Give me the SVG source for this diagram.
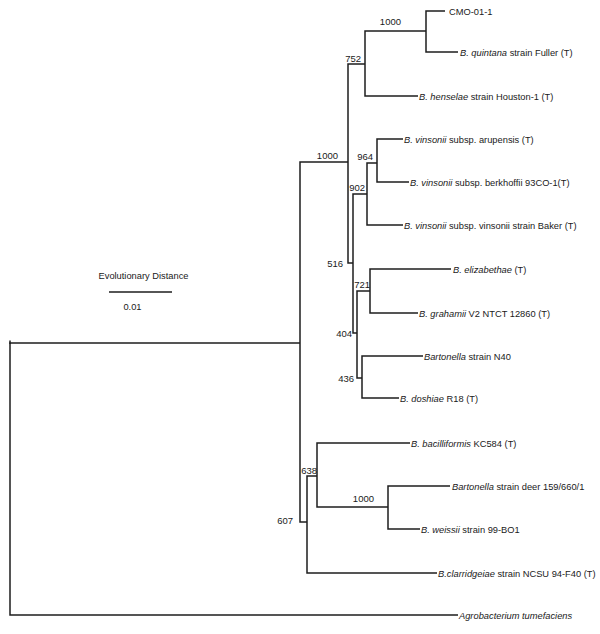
<svg xmlns="http://www.w3.org/2000/svg" width="600" height="634" viewBox="0 0 600 634">
<style>
.ln{fill:none;stroke:#1e1e1e;stroke-width:1.5;stroke-linejoin:miter}
text{font-family:"Liberation Sans",Arial,sans-serif;font-size:9.3px;fill:#1a1a1a}
.bs{text-anchor:end;font-size:9.5px}
.i{font-style:italic}
</style>
<rect width="600" height="634" fill="#fff"/>
<g id="connectors" class="ln">
<path d="M445,11 H426 V52 H458"/>
<path d="M426,31 H365 V96 H418"/>
<path d="M365,64 H348 V263 H353"/>
<path d="M403,139 H377 V182 H409"/>
<path d="M377,163 H367 V225 H403"/>
<path d="M367,194 H353 V333 H357"/>
<path d="M451,269 H370 V313 H418"/>
<path d="M370,291 H357 V378 H362"/>
<path d="M423,356 H362 V398 H399"/>
<path d="M348,162 H300 V522 H307"/>
<path d="M317,476 H307 V573 H437"/>
<path d="M410,443 H317 V507 H388"/>
<path d="M450,486 H388 V529 H420"/>
<path d="M300,343 H10 V615 H458"/>
<path d="M10,340.5 V344"/>
</g>
<g id="taxa">
<g id="t-cmo"><text x="449" y="14.5">CMO-01-1</text></g>
<g id="t-quintana"><text x="460" y="55.5"><tspan class="i">B. quintana</tspan>  strain Fuller (T)</text></g>
<g id="t-henselae"><text x="419" y="99.5"><tspan class="i">B. henselae</tspan>  strain Houston-1 (T)</text></g>
<g id="t-arupensis"><text x="404" y="142.5"><tspan class="i">B. vinsonii</tspan> subsp. arupensis (T)</text></g>
<g id="t-berkhoffii"><text x="410" y="185.5"><tspan class="i">B. vinsonii</tspan> subsp. berkhoffii 93CO-1(T)</text></g>
<g id="t-vinsonii"><text x="404" y="228.5"><tspan class="i">B. vinsonii</tspan> subsp. vinsonii strain Baker (T)</text></g>
<g id="t-elizabethae"><text x="453" y="272.5"><tspan class="i">B. elizabethae</tspan>  (T)</text></g>
<g id="t-grahamii"><text x="419" y="316.5"><tspan class="i">B. grahamii</tspan> V2 NTCT 12860 (T)</text></g>
<g id="t-n40"><text x="424" y="359.5"><tspan class="i">Bartonella</tspan> strain N40</text></g>
<g id="t-doshiae"><text x="400" y="401.5"><tspan class="i">B. doshiae</tspan> R18 (T)</text></g>
<g id="t-bacilliformis"><text x="411" y="446.5"><tspan class="i">B. bacilliformis</tspan>  KC584 (T)</text></g>
<g id="t-deer"><text x="452" y="489.5"><tspan class="i">Bartonella</tspan> strain deer 159/660/1</text></g>
<g id="t-weissii"><text x="421" y="532.5"><tspan class="i">B. weissii</tspan> strain 99-BO1</text></g>
<g id="t-clarridgeiae"><text x="438" y="576.5"><tspan class="i">B.clarridgeiae</tspan> strain NCSU 94-F40 (T)</text></g>
<g id="t-agro"><text x="459" y="618.5" class="i">Agrobacterium tumefaciens</text></g>
</g>
<g id="bootstrap">
<g id="b1"><text class="bs" x="401" y="25">1000</text></g>
<g id="b2"><text class="bs" x="361" y="62">752</text></g>
<g id="b3"><text class="bs" x="338" y="159">1000</text></g>
<g id="b4"><text class="bs" x="373" y="160">964</text></g>
<g id="b5"><text class="bs" x="365" y="191">902</text></g>
<g id="b6"><text class="bs" x="343" y="266.5">516</text></g>
<g id="b7"><text class="bs" x="370" y="288">721</text></g>
<g id="b8"><text class="bs" x="352" y="337">404</text></g>
<g id="b9"><text class="bs" x="354" y="382">436</text></g>
<g id="b10"><text class="bs" x="317" y="474">638</text></g>
<g id="b11"><text class="bs" x="374" y="502">1000</text></g>
<g id="b12"><text class="bs" x="293" y="523.5">607</text></g>
</g>
<g id="scale">
<text x="143.5" y="279" text-anchor="middle">Evolutionary Distance</text>
<path class="ln" d="M109,292 H172"/>
<text x="132.5" y="310" text-anchor="middle">0.01</text>
</g>
</svg>
